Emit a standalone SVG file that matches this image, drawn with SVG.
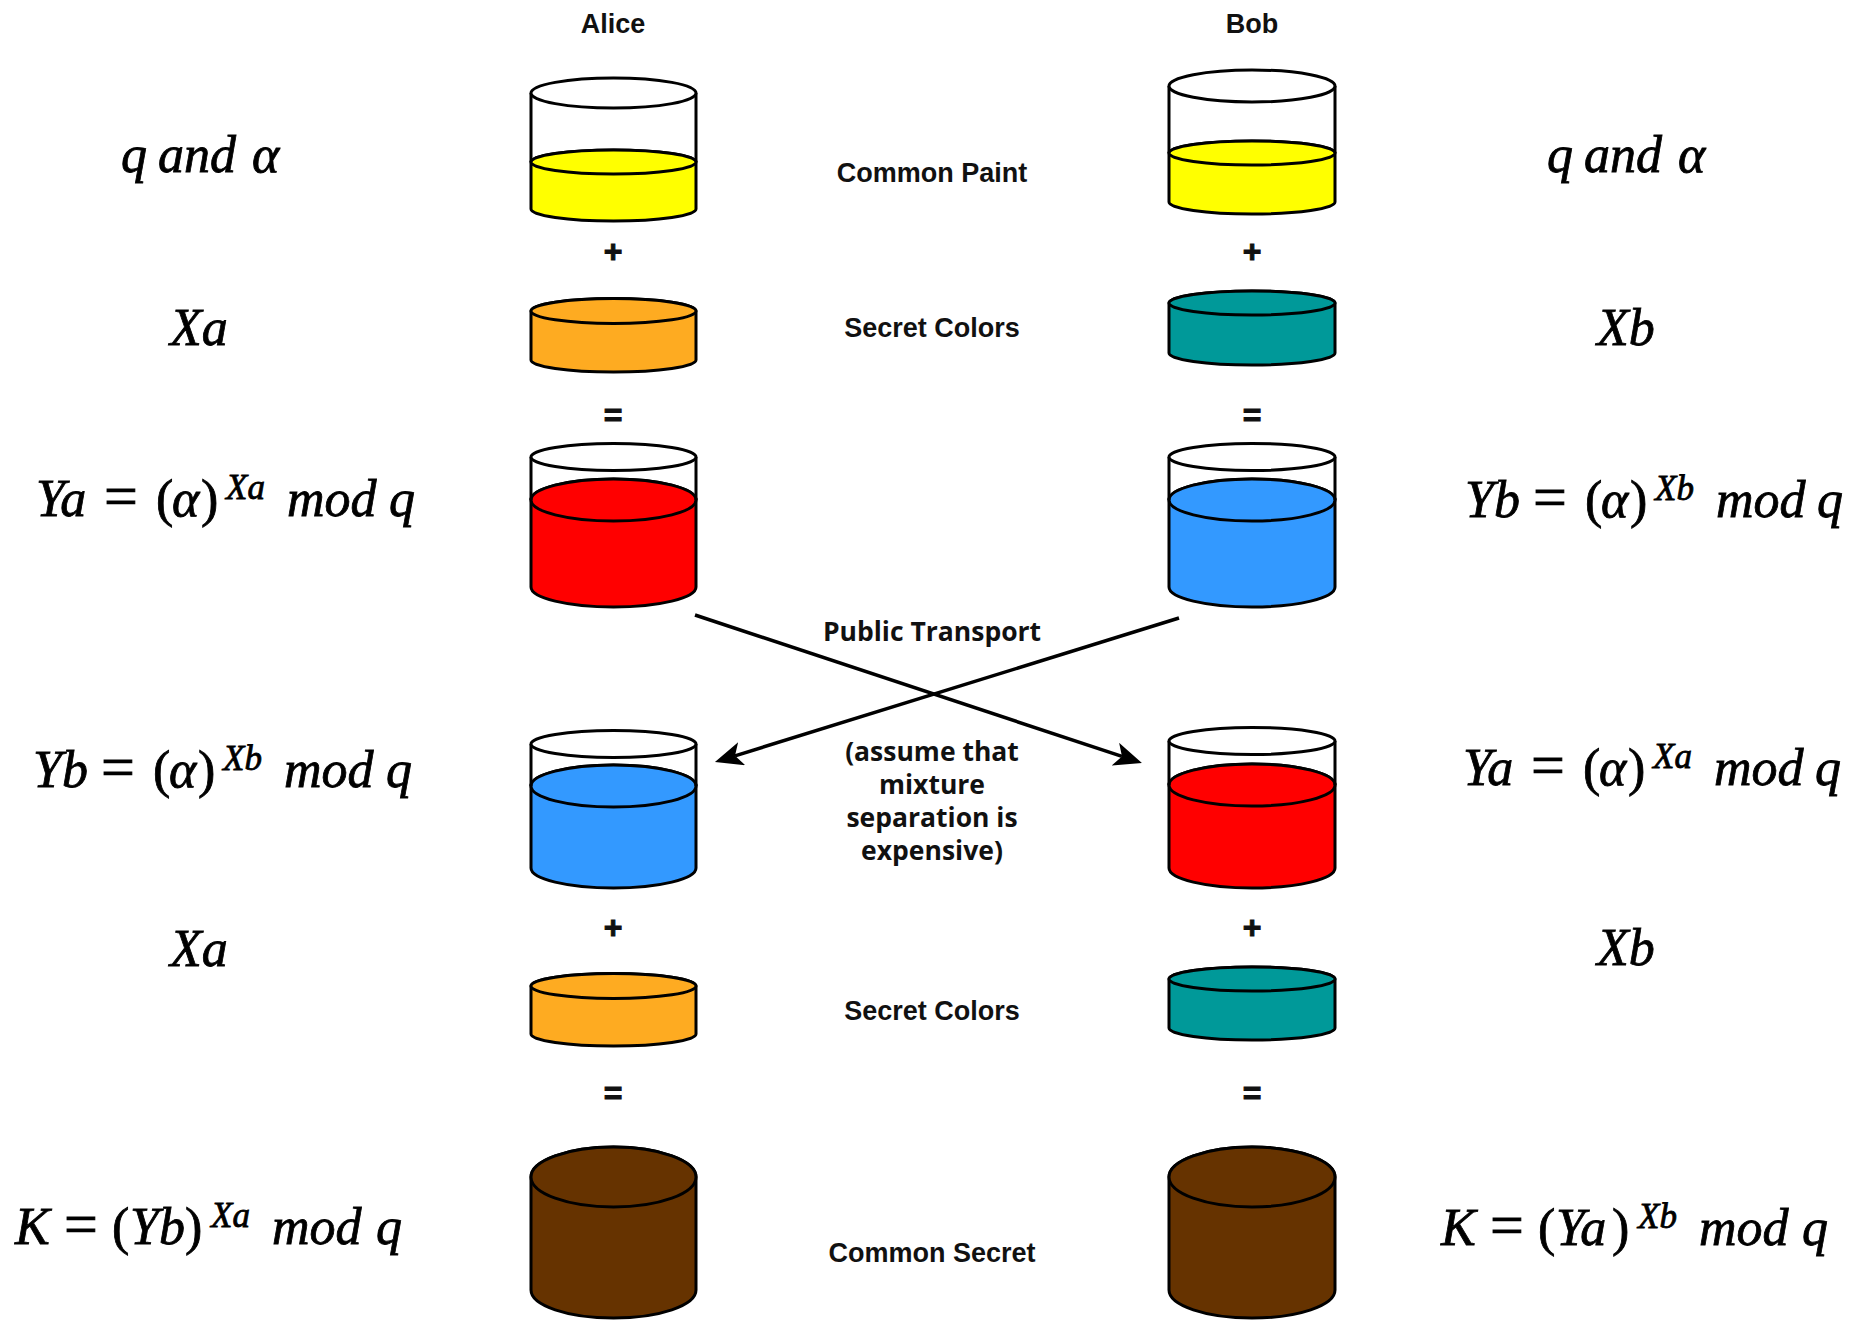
<svg xmlns="http://www.w3.org/2000/svg" width="1850" height="1320" viewBox="0 0 1850 1320">
  <style>
    .ln { stroke: #000; stroke-width: 3; fill: none; }
    .wire { stroke: #000; stroke-width: 3.5; fill: none; }
    .sh { stroke: #000; stroke-width: 3; }
    .glass { fill: #fff; stroke: #000; stroke-width: 3; }
    .yellow { fill: #ffff00; }
    .orange { fill: #feab21; }
    .teal { fill: #009999; }
    .red { fill: #ff0000; }
    .blue { fill: #3399ff; }
    .brown { fill: #663300; }
    .lbl { font-family: "Liberation Sans", Arial, sans-serif; font-weight: bold; font-size: 27px; fill: #111; text-anchor: middle; }
    .op { font-family: "Liberation Sans", Arial, sans-serif; font-weight: bold; font-size: 32px; fill: #111; stroke: #111; stroke-width: 1; text-anchor: middle; }
    .note { font-family: "Open Sans", "DejaVu Sans", sans-serif; font-weight: bold; font-size: 26.5px; fill: #111; text-anchor: middle; }
    .math { font-family: "Liberation Serif", "Times New Roman", serif; font-style: italic; font-size: 52px; fill: #000; stroke: #000; stroke-width: 0.8; }
    .up { font-style: normal; }
    .eq { font-style: normal; font-size: 60px; }
    .sup { font-size: 35px; }
  </style>
  <defs>
    <marker id="arrowHead" viewBox="0 0 28 24" refX="7" refY="12" markerWidth="28" markerHeight="24" markerUnits="userSpaceOnUse" orient="auto">
      <path d="M0,0 L28,12 L0,24 L7,12 Z" fill="#000"/>
    </marker>
  </defs>

  <!-- party headers -->
  <text id="alice-title" class="lbl" x="613" y="33">Alice</text>
  <text id="bob-title" class="lbl" x="1252" y="33">Bob</text>

  <!-- middle captions -->
  <g id="captions">
    <text class="lbl" x="932" y="182">Common Paint</text>
    <text class="lbl" x="932" y="337">Secret Colors</text>
    <text class="note" x="932" y="641">Public Transport</text>
    <text class="note" x="932" y="761">(assume that</text>
    <text class="note" x="932" y="794">mixture</text>
    <text class="note" x="932" y="827">separation is</text>
    <text class="note" x="932" y="860">expensive)</text>
    <text class="lbl" x="932" y="1020">Secret Colors</text>
    <text class="lbl" x="932" y="1262">Common Secret</text>
  </g>

  <!-- operators between beakers -->
  <g id="operators">
    <text class="op" x="613" y="262">+</text>
    <text class="op" x="1252" y="262">+</text>
    <text class="op" x="613" y="426">=</text>
    <text class="op" x="1252" y="426">=</text>
    <text class="op" x="613" y="938">+</text>
    <text class="op" x="1252" y="938">+</text>
    <text class="op" x="613" y="1104">=</text>
    <text class="op" x="1252" y="1104">=</text>
  </g>

  <!-- Alice: common paint -->
  <g id="alice-common-paint">
    <path class="sh yellow" d="M531,162 V209 A82.5,12 0 0 0 696,209 V162 A82.5,12 0 0 0 531,162 Z"/>
    <ellipse class="sh yellow" cx="613.5" cy="162" rx="82.5" ry="12"/>
    <path class="ln" d="M531,93 V162 M696,93 V162"/>
    <ellipse class="glass" cx="613.5" cy="93" rx="82.5" ry="15"/>
  </g>
  <!-- Bob: common paint -->
  <g id="bob-common-paint">
    <path class="sh yellow" d="M1169,153 V202 A83,12 0 0 0 1335,202 V153 A83,12 0 0 0 1169,153 Z"/>
    <ellipse class="sh yellow" cx="1252" cy="153" rx="83" ry="12"/>
    <path class="ln" d="M1169,86 V153 M1335,86 V153"/>
    <ellipse class="glass" cx="1252" cy="86" rx="83" ry="16"/>
  </g>

  <!-- secret colours -->
  <g id="alice-secret">
    <path class="sh orange" d="M531,311 V360 A82.5,12 0 0 0 696,360 V311 A82.5,12.5 0 0 0 531,311 Z"/>
    <ellipse class="sh orange" cx="613.5" cy="311" rx="82.5" ry="12.5"/>
  </g>
  <g id="bob-secret">
    <path class="sh teal" d="M1169,303 V353 A83,12 0 0 0 1335,353 V303 A83,12 0 0 0 1169,303 Z"/>
    <ellipse class="sh teal" cx="1252" cy="303" rx="83" ry="12"/>
  </g>

  <!-- public mixtures -->
  <g id="alice-mixture">
    <path class="sh red" d="M531,500 V587 A82.5,20 0 0 0 696,587 V500 A82.5,21 0 0 0 531,500 Z"/>
    <ellipse class="sh red" cx="613.5" cy="500" rx="82.5" ry="21"/>
    <path class="ln" d="M531,457 V500 M696,457 V500"/>
    <ellipse class="glass" cx="613.5" cy="457" rx="82.5" ry="13.5"/>
  </g>
  <g id="bob-mixture">
    <path class="sh blue" d="M1169,500 V587 A83,20 0 0 0 1335,587 V500 A83,21 0 0 0 1169,500 Z"/>
    <ellipse class="sh blue" cx="1252" cy="500" rx="83" ry="21"/>
    <path class="ln" d="M1169,457 V500 M1335,457 V500"/>
    <ellipse class="glass" cx="1252" cy="457" rx="83" ry="13.5"/>
  </g>

  <!-- received mixtures -->
  <g id="alice-received">
    <path class="sh blue" d="M531,786 V868 A82.5,20 0 0 0 696,868 V786 A82.5,21 0 0 0 531,786 Z"/>
    <ellipse class="sh blue" cx="613.5" cy="786" rx="82.5" ry="21"/>
    <path class="ln" d="M531,744 V786 M696,744 V786"/>
    <ellipse class="glass" cx="613.5" cy="744" rx="82.5" ry="13.5"/>
  </g>
  <g id="bob-received">
    <path class="sh red" d="M1169,785 V868 A83,20 0 0 0 1335,868 V785 A83,21 0 0 0 1169,785 Z"/>
    <ellipse class="sh red" cx="1252" cy="785" rx="83" ry="21"/>
    <path class="ln" d="M1169,741 V785 M1335,741 V785"/>
    <ellipse class="glass" cx="1252" cy="741" rx="83" ry="13.5"/>
  </g>

  <!-- secret colours, second round -->
  <g id="alice-secret-2">
    <path class="sh orange" d="M531,986 V1034 A82.5,12 0 0 0 696,1034 V986 A82.5,12.5 0 0 0 531,986 Z"/>
    <ellipse class="sh orange" cx="613.5" cy="986" rx="82.5" ry="12.5"/>
  </g>
  <g id="bob-secret-2">
    <path class="sh teal" d="M1169,979 V1028 A83,12 0 0 0 1335,1028 V979 A83,12 0 0 0 1169,979 Z"/>
    <ellipse class="sh teal" cx="1252" cy="979" rx="83" ry="12"/>
  </g>

  <!-- common secret -->
  <g id="alice-common-secret">
    <path class="sh brown" d="M531,1177 V1290 A82.5,28 0 0 0 696,1290 V1177 A82.5,30 0 0 0 531,1177 Z"/>
    <ellipse class="sh brown" cx="613.5" cy="1177" rx="82.5" ry="30"/>
  </g>
  <g id="bob-common-secret">
    <path class="sh brown" d="M1169,1177 V1290 A83,28 0 0 0 1335,1290 V1177 A83,30 0 0 0 1169,1177 Z"/>
    <ellipse class="sh brown" cx="1252" cy="1177" rx="83" ry="30"/>
  </g>

  <!-- exchange over the public channel -->
  <g id="connectors">
    <line class="wire" x1="695" y1="615" x2="1122" y2="756.4" marker-end="url(#arrowHead)"/>
    <line class="wire" x1="1179" y1="618" x2="735" y2="755.8" marker-end="url(#arrowHead)"/>
  </g>

  <!-- Alice's formulas -->
  <g id="alice-math">
    <text class="math" y="172"><tspan x="121">q</tspan><tspan x="158">and</tspan><tspan x="252">α</tspan></text>
    <text class="math" x="170" y="345">Xa</text>
    <text class="math" y="516"><tspan x="36">Ya</tspan><tspan class="eq" x="104">=</tspan><tspan class="up" x="156">(</tspan><tspan x="172">α</tspan><tspan class="up" x="201">)</tspan><tspan class="sup" x="226" y="499">Xa</tspan><tspan x="287" y="516">mod</tspan><tspan x="389">q</tspan></text>
    <text class="math" y="787"><tspan x="33">Yb</tspan><tspan class="eq" x="101">=</tspan><tspan class="up" x="153">(</tspan><tspan x="169">α</tspan><tspan class="up" x="198">)</tspan><tspan class="sup" x="223" y="770">Xb</tspan><tspan x="284" y="787">mod</tspan><tspan x="386">q</tspan></text>
    <text class="math" x="170" y="966">Xa</text>
    <text class="math" y="1244"><tspan x="15">K</tspan><tspan class="eq" x="64">=</tspan><tspan class="up" x="112">(</tspan><tspan x="130">Yb</tspan><tspan class="up" x="185">)</tspan><tspan class="sup" x="211" y="1227">Xa</tspan><tspan x="272" y="1244">mod</tspan><tspan x="376">q</tspan></text>
  </g>

  <!-- Bob's formulas -->
  <g id="bob-math">
    <text class="math" y="172"><tspan x="1547">q</tspan><tspan x="1584">and</tspan><tspan x="1678">α</tspan></text>
    <text class="math" x="1597" y="345">Xb</text>
    <text class="math" y="517"><tspan x="1465">Yb</tspan><tspan class="eq" x="1533">=</tspan><tspan class="up" x="1585">(</tspan><tspan x="1601">α</tspan><tspan class="up" x="1630">)</tspan><tspan class="sup" x="1655" y="500">Xb</tspan><tspan x="1716" y="517">mod</tspan><tspan x="1817">q</tspan></text>
    <text class="math" y="785"><tspan x="1463">Ya</tspan><tspan class="eq" x="1531">=</tspan><tspan class="up" x="1583">(</tspan><tspan x="1599">α</tspan><tspan class="up" x="1628">)</tspan><tspan class="sup" x="1653" y="768">Xa</tspan><tspan x="1714" y="785">mod</tspan><tspan x="1815">q</tspan></text>
    <text class="math" x="1597" y="965">Xb</text>
    <text class="math" y="1245"><tspan x="1441">K</tspan><tspan class="eq" x="1490">=</tspan><tspan class="up" x="1538">(</tspan><tspan x="1556">Ya</tspan><tspan class="up" x="1612">)</tspan><tspan class="sup" x="1638" y="1228">Xb</tspan><tspan x="1699" y="1245">mod</tspan><tspan x="1802">q</tspan></text>
  </g>
</svg>
